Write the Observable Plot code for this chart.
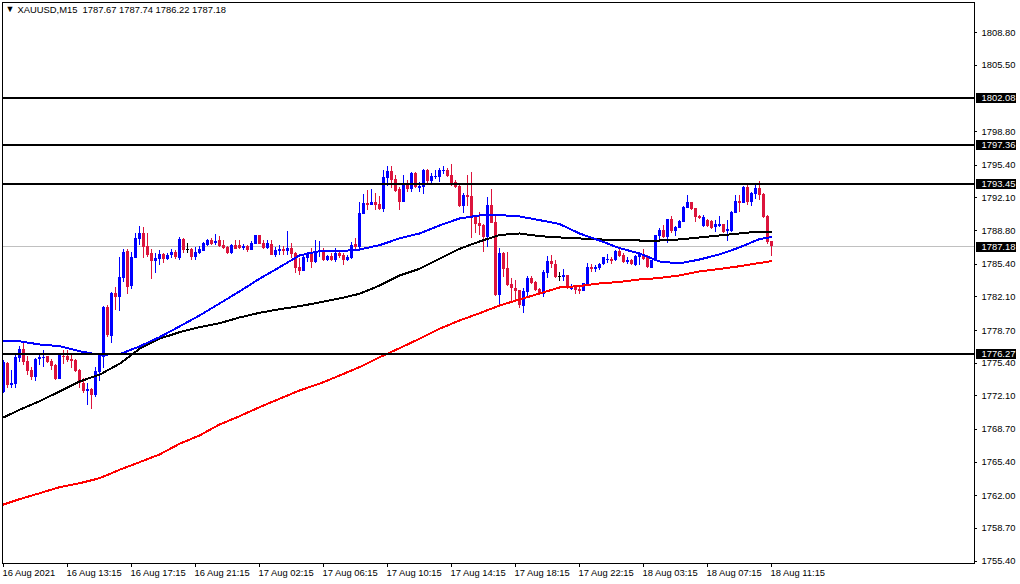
<!DOCTYPE html>
<html>
<head>
<meta charset="utf-8">
<script src="https://cdn.jsdelivr.net/npm/d3@7"></script>
<script src="https://cdn.jsdelivr.net/npm/@observablehq/plot@0.6"></script>
<style>
html,body{margin:0;padding:0;background:#fff}
svg{display:block}
</style>
</head>
<body>
<div id="chart"></div>
<script>
const open = [1772.47,1775.34,1773.15,1773.25,1775.88,1776.75,1775.57,1774.67,1773.99,1775.81,1775.91,1776.08,1775.54,1775.17,1773.76,1776.08,1776.08,1775.74,1775.68,1774.67,1773.38,1772.58,1772.78,1772.14,1774.5,1776.01,1781.0,1778.14,1782.45,1782.05,1784.0,1786.7,1783.19,1786.02,1787.94,1788.48,1787.2,1786.53,1785.72,1785.92,1786.39,1785.92,1786.33,1786.59,1785.99,1787.91,1786.86,
1786.93,1786.05,1786.49,1786.72,1787.33,1787.8,1787.47,1787.8,1787.26,1787.13,1786.45,1787.33,1787.26,1787.03,1787.16,1786.79,1787.43,1788.31,1787.5,1786.96,1787.4,1786.29,1786.72,1786.89,1786.72,1786.96,1786.45,1785.04,1784.67,1785.98,1786.39,1785.58,1786.66,1786.72,1785.78,1786.18,1785.78,1786.52,1786.29,1785.78,1785.98,1787.4,1787.06,1790.46,1791.54,1791.34,1791.64,1791.44,1790.9,1794.1,
1794.79,1793.98,1792.97,1791.65,1793.57,1792.97,1794.58,1793.07,1793.17,1794.89,1793.78,1794.18,1794.18,1794.79,1794.89,1794.38,1793.67,1793.27,1791.25,1792.36,1792.26,1790.24,1789.53,1789.33,1788.11,1791.35,1789.63,1782.25,1786.5,1784.98,1783.36,1782.96,1782.76,1781.14,1782.55,1783.97,1783.56,1782.86,1782.35,
1784.5,1785.65,1785.38,1784.13,1784.1,1784.23,1782.88,1783.08,1782.88,1782.68,1783.39,1785.07,1784.87,1784.97,1785.34,1785.81,1785.88,1785.78,1786.69,1786.29,1785.58,1785.78,1785.31,1786.12,1786.19,1786.19,1785.01,1785.71,1788.21,1788.81,1788.11,1789.93,1788.71,1789.02,1789.62,1791.04,1791.64,1791.04,1790.23,1789.22,1789.83,1789.72,1789.12,1789.22,1789.42,1788.71,1788.71,1790.53,1791.75,1791.54,1793.16,1791.64,1792.45,1793.06,1792.45,1790.23,1787.67];
const high = [1775.68,1775.51,1774.67,1776.18,1777.09,1777.43,1776.08,1775.0,1775.84,1776.28,1776.69,1776.08,1775.74,1775.27,1776.25,1776.69,1776.69,1776.35,1775.74,1774.73,1773.82,1773.32,1772.81,1775.0,1776.35,1781.14,1781.24,1782.58,1783.09,1786.06,1786.93,1786.86,1786.63,1788.55,1789.22,1789.09,1788.48,1786.86,1786.46,1786.8,1786.53,1786.46,1786.86,1786.8,1788.15,1787.98,1787.54,
1787.0,1787.06,1787.2,1787.6,1787.94,1787.97,1788.41,1788.19,1787.8,1787.2,1787.4,1787.8,1787.8,1787.4,1787.26,1787.7,1788.31,1788.31,1787.8,1787.8,1787.8,1787.06,1787.3,1787.2,1788.71,1787.47,1786.62,1785.95,1786.29,1786.62,1786.96,1787.8,1787.7,1787.03,1786.29,1786.45,1786.96,1786.72,1786.45,1786.29,1787.63,1787.97,1791.64,1792.45,1792.86,1792.96,1792.52,1792.25,1794.88,1795.28,
1795.29,1794.38,1793.14,1794.38,1793.88,1794.69,1794.69,1793.67,1794.96,1794.99,1794.55,1794.89,1795.06,1795.33,1795.06,1795.49,1793.88,1793.37,1792.6,1794.38,1794.69,1790.34,1790.67,1789.43,1792.16,1792.93,1790.34,1787.0,1786.56,1786.63,1783.94,1783.77,1782.76,1782.92,1784.17,1784.17,1783.7,1782.92,1784.78,
1786.19,1786.29,1785.78,1784.57,1784.84,1784.23,1783.35,1783.15,1783.08,1783.42,1785.51,1785.34,1785.27,1785.51,1786.08,1786.39,1786.12,1786.79,1786.96,1786.45,1786.05,1785.92,1786.29,1786.39,1786.86,1786.25,1785.78,1788.31,1788.98,1789.32,1789.93,1790.26,1789.22,1789.83,1791.24,1792.35,1791.64,1791.04,1790.33,1790.33,1789.89,1789.83,1789.83,1790.23,1789.42,1789.83,1790.77,1792.35,1792.35,1793.26,1793.36,1792.69,1793.46,1793.77,1792.59,1790.33,1787.74];
const low = [1772.31,1772.81,1772.81,1772.81,1775.51,1775.17,1774.16,1773.65,1773.59,1775.17,1775.0,1775.34,1774.67,1773.65,1773.76,1775.27,1775.51,1774.83,1774.5,1772.81,1772.31,1771.13,1770.72,1771.97,1773.55,1774.83,1778.03,1777.43,1780.73,1780.66,1783.6,1782.35,1782.85,1785.95,1787.3,1785.95,1786.06,1783.86,1784.51,1785.28,1785.52,1785.79,1785.95,1785.85,1785.79,1786.53,1786.46,
1785.78,1785.78,1786.42,1786.66,1787.2,1787.26,1787.3,1787.06,1786.86,1786.39,1786.39,1786.86,1786.86,1786.79,1786.59,1786.79,1787.43,1787.43,1786.86,1786.86,1786.29,1786.12,1786.29,1786.29,1786.29,1785.95,1784.5,1784.26,1784.67,1785.61,1784.97,1785.51,1786.12,1785.68,1785.65,1785.68,1785.61,1785.95,1785.27,1785.65,1785.91,1786.86,1786.99,1790.4,1790.84,1791.34,1790.84,1790.84,1790.67,1793.26,
1793.03,1792.7,1790.84,1791.65,1792.7,1792.7,1793.03,1792.7,1792.46,1793.47,1793.54,1793.94,1793.67,1794.48,1794.15,1793.27,1793.03,1791.11,1790.51,1791.25,1788.05,1788.49,1788.32,1786.6,1787.1,1789.5,1782.15,1781.34,1784.07,1783.16,1781.64,1781.74,1780.9,1780.46,1782.01,1783.36,1782.69,1782.25,1782.08,
1783.93,1784.94,1783.93,1783.69,1783.69,1782.82,1782.75,1782.34,1782.34,1782.68,1783.39,1784.6,1784.6,1784.77,1785.27,1785.44,1785.38,1785.71,1786.05,1785.44,1785.38,1785.31,1785.21,1785.27,1785.78,1784.94,1785.01,1785.71,1787.64,1787.97,1787.53,1788.48,1788.21,1788.98,1789.62,1791.04,1790.84,1789.66,1789.89,1789.15,1789.08,1788.95,1788.65,1789.08,1788.54,1787.74,1788.61,1790.5,1790.67,1791.54,1791.34,1791.24,1791.91,1791.85,1790.0,1787.4,1786.22];
const close = [1775.51,1773.15,1773.32,1776.01,1776.75,1775.51,1774.6,1773.99,1775.74,1775.98,1775.98,1775.47,1775.07,1773.76,1776.18,1776.01,1775.68,1775.57,1774.6,1773.32,1772.54,1772.74,1772.14,1774.56,1776.18,1781.07,1778.2,1782.48,1782.05,1784.07,1786.59,1783.09,1786.12,1788.01,1788.48,1787.13,1786.33,1785.72,1785.99,1786.39,1785.89,1786.33,1786.59,1786.06,1787.91,1786.8,1786.86,
1786.05,1786.59,1786.93,1787.47,1787.8,1787.4,1787.67,1787.2,1786.99,1786.52,1787.26,1786.93,1786.99,1787.2,1786.79,1787.5,1788.31,1787.43,1786.99,1787.47,1786.29,1786.79,1786.89,1786.72,1786.96,1786.39,1784.97,1784.67,1786.05,1786.45,1785.58,1786.72,1786.72,1785.78,1786.18,1785.78,1786.52,1786.18,1785.78,1786.12,1787.3,1787.06,1790.53,1791.54,1791.34,1791.64,1791.34,1790.9,1794.17,1794.78,
1793.88,1792.76,1791.65,1793.57,1792.97,1794.58,1793.17,1793.27,1794.89,1793.78,1794.28,1794.28,1794.89,1794.89,1794.28,1793.37,1793.17,1791.25,1792.36,1792.16,1790.14,1789.43,1789.19,1788.11,1791.35,1789.53,1782.25,1786.5,1784.88,1783.26,1782.96,1782.66,1781.24,1782.66,1783.97,1783.46,1782.76,1782.35,1784.58,
1785.71,1785.38,1784.1,1784.13,1784.23,1782.92,1783.08,1782.75,1782.68,1783.42,1785.07,1784.87,1785.07,1785.38,1786.08,1785.88,1785.68,1786.69,1786.19,1785.58,1785.78,1785.38,1786.19,1786.39,1785.92,1785.07,1785.78,1788.31,1788.81,1788.11,1789.93,1788.71,1789.15,1789.72,1791.14,1791.64,1790.94,1790.13,1790.03,1790.13,1789.22,1789.02,1789.42,1789.42,1788.61,1788.91,1790.63,1791.75,1791.54,1793.16,1791.64,1792.55,1793.06,1792.35,1790.13,1787.6,1787.18];

const maBar = [0,4,9,14,19,24,29,34,39,44,49,54,59,64,69,74,79,84,89,94,99,104,109,114,119,124,129,134,139,144,149,154,159,164,169,174,179,184,189,192];
const maBlue = [1777.69,1777.62,1777.29,1777.12,1776.61,1776.25,1776.31,1777.09,1778.03,1779.11,1780.22,1781.43,1782.65,1783.93,1785.1,1786.29,1786.72,1786.72,1786.89,1787.33,1788.01,1788.51,1789.32,1790.03,1790.33,1790.38,1790.23,1789.86,1789.47,1788.51,1787.8,1787.03,1786.49,1785.68,1785.48,1785.88,1786.39,1787.1,1787.95,1788.14];
const maBlack = [1769.91,1770.69,1771.55,1772.54,1773.55,1774.23,1775.34,1776.85,1777.87,1778.53,1779.04,1779.44,1780.02,1780.49,1780.86,1781.16,1781.54,1781.94,1782.41,1783.25,1784.26,1784.94,1785.95,1786.96,1787.7,1788.36,1788.51,1788.24,1788.11,1788.01,1787.91,1787.85,1787.8,1787.8,1787.91,1788.11,1788.31,1788.51,1788.71,1788.68];
const maRed = [1761.11,1761.65,1762.25,1762.86,1763.26,1763.77,1764.62,1765.39,1766.17,1767.25,1768.09,1769.2,1770.04,1770.95,1771.8,1772.64,1773.32,1774.15,1775.0,1776.0,1776.91,1777.87,1778.88,1779.71,1780.45,1781.23,1781.84,1782.44,1783.05,1783.2,1783.46,1783.61,1783.86,1784.01,1784.27,1784.67,1784.92,1785.2,1785.53,1785.71];

const levels = [1802.08,1797.36,1793.45,1776.27];
const lastPrice = 1787.18;
const yTicks = [1808.80,1805.50,1798.80,1795.40,1792.10,1788.80,1785.40,1782.10,1778.70,1775.40,1772.10,1768.70,1765.40,1762.00,1758.70,1755.40];
const xTickBars = [0,16,32,48,64,80,96,112,128,144,160,176,192];
const xTickLabels = ["16 Aug 2021","16 Aug 13:15","16 Aug 17:15","16 Aug 21:15","17 Aug 02:15","17 Aug 06:15","17 Aug 10:15","17 Aug 14:15","17 Aug 18:15","17 Aug 22:15","18 Aug 03:15","18 Aug 07:15","18 Aug 11:15"];
const header = "XAUUSD,M15  1787.67 1787.74 1786.22 1787.18";

const UP = "#0000ff", DOWN = "#dc143c", DOJI = "#000000";
const font = "'Liberation Sans', Arial, sans-serif";
const FS = 9.4;

const bars = open.map((o,i)=>({i,open:o,high:high[i],low:low[i],close:close[i],
  color: close[i]>o ? UP : close[i]<o ? DOWN : DOJI}));
const maSeries = values => values.map((v,k)=>({i:maBar[k],v}));
const xTicks = xTickBars.map((b,k)=>({b,label:xTickLabels[k]}));
const xMin = -0.25, xMax = 242.75;
const tickEnd = xMax + 0.75, labelX = xMax + 1.75;
const boxA = xMax + 0.5, boxB = xMax + 10.5;
const crisp = {shapeRendering:"crispEdges"};

const plot = Plot.plot({
  width:1020, height:584,
  marginLeft:2, marginRight:46, marginTop:2, marginBottom:21,
  style:{fontFamily:font, fontSize:FS+"px", background:"#fff", color:"#000"},
  x:{domain:[xMin,xMax], axis:null},
  y:{domain:[1755.15,1811.86], axis:null},
  color:{type:"identity"},
  marks:[
    Plot.ruleY([lastPrice],{y:d=>d,x1:xMin,x2:xMax,stroke:"#c0c0c0",strokeWidth:1,...crisp}),
    Plot.ruleX(bars,{x:"i",y1:"low",y2:"high",stroke:"color",strokeWidth:1,...crisp}),
    Plot.rect(bars.filter(d=>d.open!==d.close),{x1:d=>d.i-0.25,x2:d=>d.i+0.5,y1:d=>Math.min(d.open,d.close),y2:d=>Math.max(d.open,d.close),fill:"color",...crisp}),
    Plot.ruleY(bars.filter(d=>d.open===d.close),{y:"open",x1:d=>d.i-0.25,x2:d=>d.i+0.5,stroke:"color",strokeWidth:1,...crisp}),
    Plot.line(maSeries(maRed),{x:"i",y:"v",stroke:"#ff0000",strokeWidth:2,...crisp}),
    Plot.line(maSeries(maBlack),{x:"i",y:"v",stroke:"#000000",strokeWidth:2,...crisp}),
    Plot.line(maSeries(maBlue),{x:"i",y:"v",stroke:"#0000ff",strokeWidth:2,...crisp}),
    Plot.ruleY(levels,{x1:xMin,x2:xMax,dy:-1,stroke:"#000",strokeWidth:2,...crisp}),
    Plot.frame({stroke:"#000",strokeWidth:1,...crisp}),
    // y axis
    Plot.ruleY(yTicks,{x1:xMax,x2:tickEnd,stroke:"#000",...crisp}),
    Plot.text(yTicks,{x:labelX,y:d=>d,text:d=>d.toFixed(2),textAnchor:"start",fill:"#000",fontSize:FS}),
    Plot.ruleY(levels,{x1:boxA,x2:boxB,dy:-1,stroke:"#000",strokeWidth:10,...crisp}),
    Plot.text(levels,{x:labelX,y:d=>d,dy:-1,text:d=>d.toFixed(2),textAnchor:"start",fill:"#fff",fontSize:FS}),
    Plot.ruleY([lastPrice],{y:d=>d,x1:boxA,x2:boxB,stroke:"#000",strokeWidth:10,...crisp}),
    Plot.text([lastPrice],{x:labelX,y:d=>d,text:d=>d.toFixed(2),textAnchor:"start",fill:"#fff",fontSize:FS}),
    // x axis
    Plot.ruleX(xTicks,{x:"b",y1:1755.15,y2:1754.75,stroke:"#000",...crisp}),
    Plot.text(xTicks,{x:"b",y:1754.15,text:"label",textAnchor:"start",dx:-1,fill:"#000",fontSize:FS}),
    // header
    Plot.text([header],{text:d=>d,frameAnchor:"top-left",dx:15,dy:4,textAnchor:"start",fill:"#000",fontSize:FS}),
    Plot.text(["▼"],{text:d=>d,frameAnchor:"top-left",dx:3,dy:3,textAnchor:"start",fill:"#000",fontSize:9})
  ]
});
document.getElementById("chart").appendChild(plot);
</script>
</body>
</html>
